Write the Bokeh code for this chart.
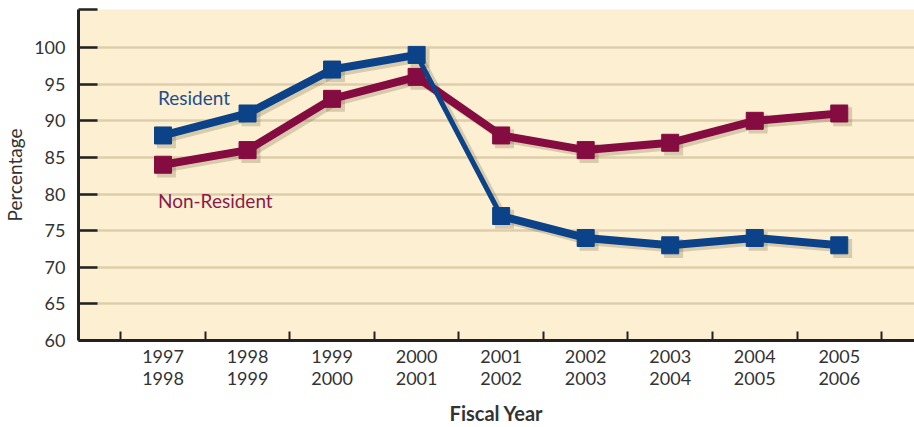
from bokeh.plotting import figure
from bokeh.models import Range1d, FixedTicker, Label
from bokeh.embed import file_html
from bokeh.resources import INLINE

years = ["1997\n1998", "1998\n1999", "1999\n2000", "2000\n2001", "2001\n2002",
         "2002\n2003", "2003\n2004", "2004\n2005", "2005\n2006"]
resident = [88, 91, 97, 99, 77, 74, 73, 74, 73]
non_resident = [84, 86, 93, 96, 88, 86, 87, 90, 91]
y_ticks = [60, 65, 70, 75, 80, 85, 90, 95, 100]

FONT = "Lato"
BLUE = "#0B4288"
RED = "#850C40"
TOP = 105.2
xs = list(range(len(years)))

p = figure(width=914, height=427, output_backend="svg", toolbar_location=None,
           x_range=Range1d(-1, 8.89), y_range=Range1d(60, TOP),
           min_border_left=78, min_border_top=9, min_border_right=0, min_border_bottom=87)
p.background_fill_color = "#FDF0D2"
p.border_fill_color = "white"
p.outline_line_color = None

# axes
xa = p.xaxis[0]
xa.ticker = FixedTicker(ticks=xs, minor_ticks=[i - 0.5 for i in range(len(years) + 1)])
xa.major_label_overrides = {i: years[i] for i in xs}
xa.major_tick_in = 0
xa.major_tick_out = 0
xa.minor_tick_in = 9
xa.minor_tick_out = 0
xa.minor_tick_line_width = 2
xa.minor_tick_line_color = "#222222"
xa.axis_line_width = 3
xa.axis_line_color = "#222222"
xa.major_label_text_font = FONT
xa.major_label_text_font_size = "18px"
xa.major_label_text_line_height = 1.0
xa.major_label_text_color = "#333333"
xa.major_label_standoff = 4
xa.axis_label = "Fiscal Year"
xa.axis_label_text_font = FONT
xa.axis_label_text_font_style = "bold"
xa.axis_label_text_font_size = "20px"
xa.axis_label_text_color = "#333333"
xa.axis_label_standoff = 9

ya = p.yaxis[0]
ya.ticker = FixedTicker(ticks=y_ticks + [TOP])
ya.major_label_overrides = {TOP: ""}
ya.major_tick_in = 19
ya.major_tick_out = 0
ya.major_tick_line_width = 2.5
ya.major_tick_line_color = "#222222"
ya.minor_tick_line_color = None
ya.axis_line_width = 3
ya.axis_line_color = "#222222"
ya.major_label_text_font = FONT
ya.major_label_text_font_size = "18px"
ya.major_label_text_color = "#333333"
ya.major_label_standoff = 13
ya.axis_label = "Percentage"
ya.axis_label_text_font = FONT
ya.axis_label_text_font_style = "normal"
ya.axis_label_text_font_size = "19px"
ya.axis_label_text_color = "#333333"
ya.axis_label_standoff = 5

p.xgrid.grid_line_color = None
p.ygrid.grid_line_color = "#DDCDAA"
p.ygrid.grid_line_width = 2.5

# shadows
dx, dy = 0.04, -0.45
for vals in (non_resident, resident):
    sx = [x + dx for x in xs]
    sy = [v + dy for v in vals]
    p.line(sx, sy, line_width=8, line_color="#6b5a3a", line_alpha=0.25, line_join="round")
    p.scatter(sx, sy, marker="square", size=19, fill_color="#6b5a3a", fill_alpha=0.25,
              line_color=None)

# non-resident
p.line(xs, non_resident, line_width=8, line_color=RED, line_join="round")
p.scatter(xs, non_resident, marker="square", size=17, fill_color=RED, line_color=RED,
          line_width=1)

# resident (steep drop segment drawn thinner)
p.line(xs[:4], resident[:4], line_width=8, line_color=BLUE, line_join="round")
p.line(xs[3:5], resident[3:5], line_width=5, line_color=BLUE)
p.line(xs[4:], resident[4:], line_width=8, line_color=BLUE, line_join="round")
p.scatter(xs, resident, marker="square", size=17, fill_color=BLUE, line_color=BLUE,
          line_width=1)

p.add_layout(Label(x=-0.06, y=93.2, text="Resident", text_font=FONT,
                   text_font_size="19px", text_color="#1F4E8C", text_baseline="middle"))
p.add_layout(Label(x=-0.06, y=79.1, text="Non-Resident", text_font=FONT,
                   text_font_size="19px", text_color="#8B1A4A", text_baseline="middle"))

open("out.html", "w").write(file_html(p, INLINE))
